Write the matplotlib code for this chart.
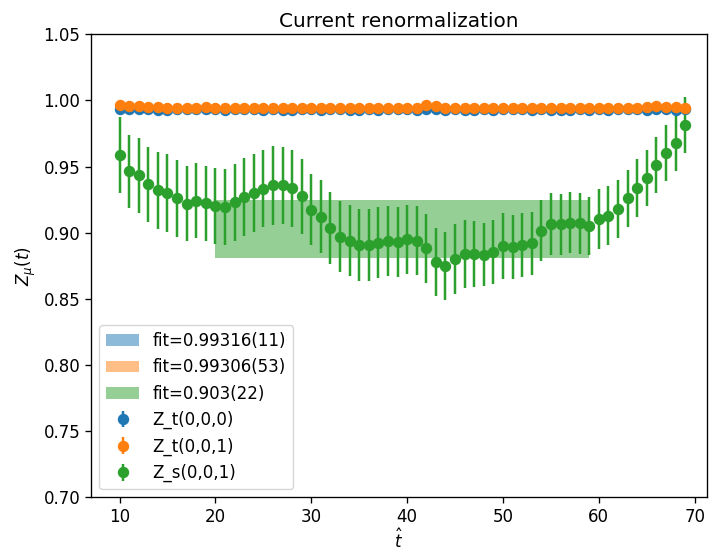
import matplotlib
matplotlib.use("Agg")
import matplotlib.pyplot as plt
import numpy as np

t = np.arange(10, 70)

# Z_t(0,0,0)
zt000 = [0.9935, 0.9933, 0.9933, 0.9932, 0.9930, 0.9931, 0.9932, 0.9933, 0.9932, 0.9933,
         0.9932, 0.9931, 0.9932, 0.9933, 0.9932, 0.9931, 0.9932, 0.9930, 0.9931, 0.9932,
         0.9932, 0.9931, 0.9932, 0.9933, 0.9931, 0.9930, 0.9932, 0.9931, 0.9932, 0.9933,
         0.9932, 0.9931, 0.9938, 0.9933, 0.9931, 0.9932, 0.9930, 0.9931, 0.9932, 0.9931,
         0.9932, 0.9933, 0.9932, 0.9931, 0.9932, 0.9931, 0.9930, 0.9931, 0.9932, 0.9931,
         0.9932, 0.9931, 0.9932, 0.9933, 0.9932, 0.9931, 0.9932, 0.9933, 0.9930, 0.9933]
zt000_err = [0.0003] * 60

# Z_t(0,0,1)
zt001 = [0.9962, 0.9956, 0.9956, 0.9952, 0.9947, 0.9945, 0.9943, 0.9945, 0.9946, 0.9947,
         0.9944, 0.9945, 0.9946, 0.9944, 0.9945, 0.9946, 0.9945, 0.9944, 0.9946, 0.9945,
         0.9944, 0.9946, 0.9945, 0.9944, 0.9946, 0.9944, 0.9945, 0.9946, 0.9944, 0.9945,
         0.9944, 0.9945, 0.9962, 0.9955, 0.9946, 0.9944, 0.9945, 0.9946, 0.9944, 0.9945,
         0.9942, 0.9946, 0.9945, 0.9944, 0.9946, 0.9945, 0.9944, 0.9946, 0.9945, 0.9944,
         0.9946, 0.9945, 0.9944, 0.9946, 0.9945, 0.9948, 0.9955, 0.9952, 0.9948, 0.9946]
zt001_err = [0.0006] * 60

# Z_s(0,0,1)
zs001 = [0.9585, 0.9464, 0.9433, 0.9365, 0.9320, 0.9300, 0.9259, 0.9218, 0.9241, 0.9224,
         0.9203, 0.9193, 0.9229, 0.9269, 0.9300, 0.9332, 0.9357, 0.9357, 0.9337, 0.9274,
         0.9175, 0.9120, 0.9034, 0.8970, 0.8940, 0.8907, 0.8907, 0.8925, 0.8938, 0.8930,
         0.8950, 0.8940, 0.8882, 0.8776, 0.8750, 0.8799, 0.8839, 0.8839, 0.8834, 0.8852,
         0.8900, 0.8890, 0.8907, 0.8920, 0.9016, 0.9064, 0.9064, 0.9077, 0.9070, 0.9052,
         0.9102, 0.9130, 0.9178, 0.9260, 0.9337, 0.9413, 0.9514, 0.9603, 0.9679, 0.9813]
zs001_err = [0.0286, 0.0277, 0.0286, 0.0284, 0.0290, 0.0292, 0.0289, 0.0284, 0.0284, 0.0284,
             0.0287, 0.0289, 0.0290, 0.0294, 0.0292, 0.0292, 0.0299, 0.0294, 0.0290, 0.0282,
             0.0271, 0.0275, 0.0272, 0.0267, 0.0267, 0.0269, 0.0270, 0.0269, 0.0262, 0.0262,
             0.0262, 0.0262, 0.0262, 0.0258, 0.0259, 0.0264, 0.0259, 0.0250, 0.0239, 0.0243,
             0.0250, 0.0243, 0.0243, 0.0240, 0.0233, 0.0233, 0.0230, 0.0234, 0.0230, 0.0220,
             0.0227, 0.0220, 0.0220, 0.0217, 0.0217, 0.0210, 0.0212, 0.0214, 0.0214, 0.0212]

# fit results (value, error) and fit range
fits = [(0.99316, 0.00011, "fit=0.99316(11)"),
        (0.99306, 0.00053, "fit=0.99306(53)"),
        (0.903, 0.022, "fit=0.903(22)")]
fit_range = [20, 59]

series = [(zt000, zt000_err, "Z_t(0,0,0)"),
          (zt001, zt001_err, "Z_t(0,0,1)"),
          (zs001, zs001_err, "Z_s(0,0,1)")]
colors = ["tab:blue", "tab:orange", "tab:green"]

# the original looks like a default figure rendered a bit larger (~1.2x)
s = 1.2
plt.rcParams.update({
    "font.size": 10 * s,
    "axes.linewidth": 0.8 * s,
    "xtick.major.size": 3.5 * s,
    "ytick.major.size": 3.5 * s,
    "xtick.major.width": 0.8 * s,
    "ytick.major.width": 0.8 * s,
})

fig = plt.figure(figsize=(7.10, 5.53), dpi=100)
ax = fig.add_axes([91 / 710, 0.1007, (707 - 91) / 710, 0.938 - 0.1007])

for (val, err, lab), c in zip(fits, colors):
    ax.fill_between(fit_range, val - err, val + err, color=c, alpha=0.5,
                    linewidth=0, label=lab)

for (y, e, lab), c in zip(series, colors):
    ax.errorbar(t, y, yerr=e, fmt="o", color=c, markersize=6 * s,
                elinewidth=1.5 * s, label=lab)

ax.set_xlim(7.02, 71.28)
ax.set_ylim(0.70, 1.05)
ax.set_title("Current renormalization", pad=5)
ax.set_xlabel(r"$\hat{t}$", labelpad=2)
ax.set_ylabel(r"$Z_\mu(t)$")
ax.legend(loc="lower left")

fig.savefig("out.png", dpi=100)
